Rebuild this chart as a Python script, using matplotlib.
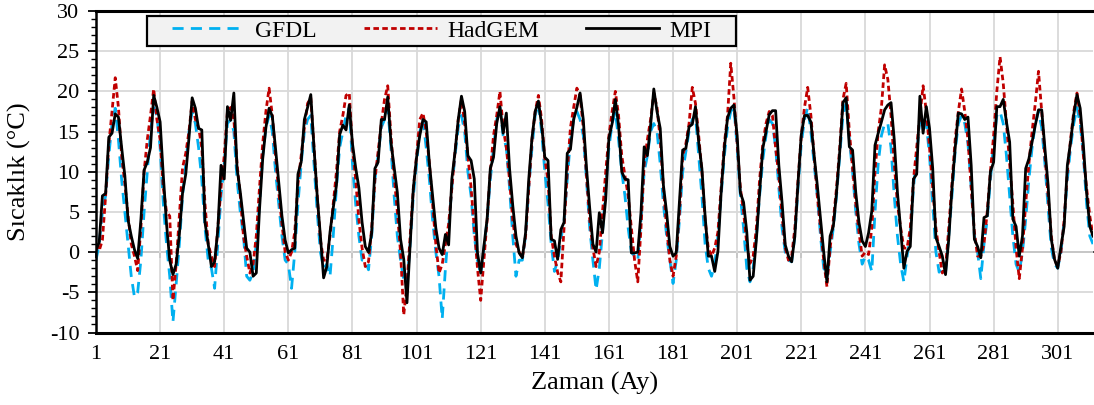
import numpy as np
import matplotlib.pyplot as plt
from matplotlib.patches import Rectangle
from matplotlib.ticker import MultipleLocator

plt.rcParams['font.family'] = 'serif'
plt.rcParams['font.serif'] = ['Liberation Serif', 'Times New Roman', 'DejaVu Serif']
plt.rcParams['axes.unicode_minus'] = False

# aylik sicaklik serileri (1..312. ay)
months = np.arange(1, 313)

gfdl = [
    -1.0, 1.0, 5.0, 7.0, 12.0, 16.0, 17.9, 14.0, 9.0, 5.0, 1.0, -3.0,
    -5.6, -5.0, -1.0, 5.0, 10.0, 15.0, 18.0, 17.0, 13.0, 6.0, 1.0, -3.0,
    -8.7, -4.0, 1.0, 7.0, 11.0, 15.0, 17.5, 16.0, 13.0, 9.0, 3.0, -1.0,
    -2.0, -4.5, 1.0, 7.0, 11.0, 16.0, 16.5, 15.0, 9.0, 5.0, 2.0, -3.0,
    -3.5, -2.5, 1.0, 6.0, 12.0, 15.5, 17.0, 15.0, 10.0, 6.0, 2.0, -1.0,
    -1.5, -4.5, 0.0, 6.0, 11.0, 15.0, 16.5, 17.0, 11.0, 5.0, 0.0, -2.0,
    -1.5, -3.0, 2.0, 8.0, 13.0, 15.0, 17.0, 18.0, 11.0, 6.0, 2.0, -1.0,
    -1.0, -2.2, 2.0, 9.0, 12.0, 15.5, 16.5, 18.0, 13.0, 7.0, 2.0, -1.0,
    -3.5, -4.0, 1.0, 7.0, 11.0, 15.0, 16.5, 13.0, 9.0, 4.0, 0.0, -3.0,
    -8.3, -2.0, 3.0, 8.0, 12.0, 15.5, 17.0, 15.0, 10.0, 7.0, 2.0, -1.0,
    -2.8, 0.5, 4.0, 9.0, 13.0, 16.5, 18.0, 14.5, 13.0, 8.0, 2.0, -3.0,
    -1.0, -1.0, 2.0, 8.0, 13.0, 17.0, 18.5, 15.0, 10.0, 6.0, 1.0, -2.4,
    -1.0, 1.5, 4.0, 9.0, 14.0, 16.5, 17.5, 16.5, 14.5, 9.0, 3.0, -1.0,
    -4.7, -2.0, 2.5, 8.0, 13.0, 16.0, 17.5, 14.0, 10.0, 7.0, 3.0, 0.0,
    -0.5, -1.0, 4.0, 10.0, 12.0, 15.0, 16.0, 15.0, 11.0, 6.0, 2.0, -1.0,
    -3.9, -1.0, 4.0, 10.0, 12.5, 15.0, 16.5, 17.0, 12.0, 7.0, 1.0, -2.0,
    -3.0, -1.5, 2.0, 7.0, 12.0, 15.5, 17.5, 18.0, 13.0, 7.0, 3.0, -2.0,
    -3.7, -2.0, 2.0, 7.0, 11.5, 14.5, 16.5, 16.0, 13.0, 8.0, 3.0, 0.0,
    -1.0, -1.2, 2.0, 8.0, 13.5, 16.5, 18.0, 15.0, 11.0, 7.0, 2.0, -2.0,
    -3.0, 0.0, 3.0, 7.0, 12.0, 17.0, 18.5, 14.0, 10.0, 5.0, 1.0, -1.5,
    -0.5, -1.0, -2.4, 5.0, 11.0, 14.5, 16.0, 16.0, 13.0, 7.0, 2.0, -1.5,
    -3.7, -0.5, 2.0, 8.0, 12.0, 16.5, 17.0, 16.0, 12.0, 6.0, 0.0, -2.5,
    -2.0, -2.5, 2.0, 7.0, 12.5, 16.0, 17.0, 16.0, 13.5, 8.0, 2.0, 0.0,
    -3.3, 1.0, 4.0, 9.0, 13.5, 17.0, 17.5, 16.0, 12.0, 7.0, 2.0, -1.5,
    -2.5, 0.0, 4.0, 9.0, 13.0, 16.0, 17.5, 15.5, 11.0, 5.5, 0.5, -1.5,
    -2.0, 0.0, 4.0, 9.0, 13.0, 16.0, 18.0, 16.0, 12.0, 6.0, 2.0, 1.0,
]

hadgem = [
    1.0, 0.2, 1.5, 7.0, 13.5, 17.5, 21.7, 18.0, 12.0, 8.5, 4.5, 1.0,
    -0.5, -2.3, 3.0, 10.0, 14.0, 17.0, 20.3, 16.5, 14.0, 8.0, 5.0, 4.5,
    -6.0, -1.5, 4.5, 10.5, 12.3, 15.0, 18.8, 16.5, 15.5, 13.0, 6.0, 1.0,
    -0.5, -1.8, 3.0, 8.0, 12.0, 17.5, 18.0, 16.5, 11.0, 7.0, 2.0, -0.5,
    -2.6, -1.5, 2.0, 8.0, 13.5, 17.5, 20.4, 17.0, 12.0, 7.5, 3.5, 0.0,
    -1.0, 0.0, 2.5, 8.5, 12.0, 15.5, 18.5, 19.2, 13.0, 7.0, 1.5, -1.0,
    -1.0, 2.0, 6.0, 10.0, 15.0, 17.0, 19.5, 19.8, 13.0, 9.0, 4.0, 0.5,
    -1.8, -1.2, 3.0, 9.0, 12.5, 16.0, 19.0, 20.7, 14.5, 9.5, 5.0, 0.0,
    -7.8, -4.0, 2.0, 8.0, 12.0, 16.5, 17.3, 15.0, 11.0, 6.0, 1.0, -2.6,
    -1.5, 1.0, 3.5, 8.0, 12.5, 16.5, 19.0, 16.0, 12.0, 8.0, 3.0, -2.0,
    -6.0, -1.0, 4.0, 10.0, 14.5, 17.0, 20.0, 15.5, 13.0, 9.0, 4.0, 1.0,
    0.0, -0.7, 2.0, 8.0, 14.0, 17.5, 19.5, 16.5, 11.6, 9.0, 2.0, -0.5,
    -2.5, -3.7, 3.0, 10.0, 15.5, 18.0, 20.4, 19.5, 15.5, 9.5, 4.0, 0.5,
    -1.8, 0.0, 5.0, 10.0, 14.5, 17.5, 20.0, 17.0, 12.0, 9.5, 7.0, 3.0,
    -1.0, -3.7, 3.0, 11.0, 14.0, 16.5, 19.8, 18.0, 14.0, 8.0, 3.0, -1.0,
    -3.0, -0.5, 5.0, 12.0, 13.5, 16.0, 20.5, 18.5, 14.5, 10.0, 4.0, 0.5,
    -0.5, 0.5, 2.5, 8.0, 13.5, 17.0, 23.5, 19.2, 13.5, 8.0, 5.0, 1.0,
    -1.4, -0.5, 3.0, 9.0, 13.5, 16.0, 17.5, 17.0, 13.0, 9.5, 4.5, 0.5,
    -1.0, -0.5, 3.0, 9.0, 14.5, 18.0, 20.5, 17.0, 12.0, 7.0, 3.0, -1.0,
    -4.3, 0.5, 4.0, 8.0, 13.0, 19.0, 21.0, 15.0, 10.5, 6.0, 2.5, -0.5,
    0.0, -0.3, 3.0, 10.0, 15.0, 18.0, 23.3, 21.5, 17.0, 11.0, 6.0, 3.0,
    0.5, 0.5, 3.0, 9.0, 13.0, 17.0, 20.7, 17.5, 13.0, 8.0, 3.0, 0.0,
    -2.6, -2.0, 3.0, 8.5, 14.0, 17.5, 20.3, 17.5, 14.0, 8.0, 2.5, -0.5,
    -0.5, 1.0, 5.0, 10.0, 14.5, 20.0, 24.3, 21.0, 16.0, 11.0, 6.0, 0.5,
    -3.3, 0.5, 6.0, 11.0, 15.0, 18.5, 22.5, 17.5, 12.0, 7.0, 2.0, -1.0,
    -1.7, 0.0, 4.0, 10.0, 14.0, 17.5, 19.8, 17.0, 12.0, 8.0, 4.5, 2.0,
]

mpi = [
    0.3, 1.2, 7.0, 7.3, 14.3, 14.8, 17.2, 16.8, 13.0, 9.5, 4.0, 2.0,
    0.3, -0.8, 4.0, 10.2, 11.2, 13.0, 19.5, 18.0, 16.2, 9.5, 3.5, -1.0,
    -2.8, -1.5, 2.2, 7.4, 9.7, 14.2, 19.2, 17.9, 15.4, 15.2, 3.7, 1.0,
    -1.8, -1.2, 2.8, 10.8, 9.1, 18.1, 16.4, 19.8, 10.4, 7.5, 4.0, 0.5,
    0.0, -3.0, -2.6, 5.3, 11.6, 15.5, 17.9, 16.9, 12.9, 8.7, 4.5, 1.5,
    -0.1, 0.3, 0.5, 9.7, 11.2, 16.5, 18.0, 19.6, 13.0, 7.0, 2.0, -3.2,
    -1.8, 2.5, 5.5, 8.3, 14.6, 15.8, 15.2, 18.3, 13.5, 10.5, 8.0, 3.7,
    0.7, 0.0, 2.4, 10.4, 11.2, 16.5, 16.5, 19.3, 13.7, 10.5, 7.4, 1.6,
    -0.9, -6.3, 1.0, 8.0, 11.8, 14.5, 16.5, 16.2, 11.0, 7.0, 3.0, 0.5,
    -0.3, 2.2, 0.9, 9.1, 12.5, 16.5, 19.4, 17.5, 12.0, 11.4, 9.1, -0.1,
    -2.6, 0.7, 4.1, 10.4, 11.8, 16.0, 18.1, 14.8, 17.3, 10.4, 5.8, 2.0,
    -0.1, -0.7, 2.4, 9.1, 14.2, 17.5, 18.8, 15.8, 11.8, 11.4, 1.6, 1.4,
    -0.9, 2.8, 3.7, 12.3, 12.8, 16.5, 18.0, 19.8, 16.5, 10.5, 5.5, 1.0,
    0.0, 4.9, 2.4, 6.6, 14.2, 16.0, 19.0, 15.8, 10.0, 9.1, 9.0, -0.1,
    -0.1, 0.0, 4.9, 13.1, 12.0, 15.8, 20.3, 17.5, 15.4, 8.3, 4.9, 0.7,
    -0.5, -0.1, 6.2, 12.7, 12.9, 15.6, 15.9, 18.1, 13.7, 10.4, 4.5, -0.5,
    -0.5, -2.4, 0.1, 7.4, 12.9, 16.7, 17.9, 18.3, 14.5, 7.4, 6.2, 2.5,
    -3.5, -3.0, 1.6, 7.4, 12.9, 15.0, 17.1, 17.6, 17.6, 10.8, 6.2, 0.9,
    -0.5, -1.2, 2.0, 8.7, 14.6, 17.0, 17.0, 16.2, 12.1, 8.3, 4.1, 0.0,
    -3.7, 2.0, 3.2, 7.4, 12.5, 18.6, 19.2, 13.1, 12.7, 7.4, 3.7, 1.4,
    0.7, 2.4, 5.1, 13.3, 14.8, 16.2, 17.7, 18.3, 18.6, 14.0, 7.4, 2.8,
    -2.0, 0.1, 0.7, 9.1, 9.7, 19.4, 14.8, 18.1, 15.4, 10.4, 1.8, 0.7,
    -0.5, -2.8, 1.6, 7.9, 12.9, 17.3, 17.2, 16.5, 16.8, 10.8, 1.6, 0.7,
    -0.7, 4.3, 4.5, 10.0, 11.2, 18.1, 18.1, 19.0, 16.2, 13.7, 4.1, 3.2,
    -0.5, 2.0, 10.4, 11.6, 13.7, 15.8, 17.7, 17.7, 12.9, 8.3, 1.6, -0.9,
    -2.0, 0.7, 3.2, 10.8, 13.7, 17.1, 19.6, 17.9, 13.3, 7.4, 3.2, 2.0,
]

x_ticks = list(range(1, 302, 20))
series_names = ['GFDL', 'HadGEM', 'MPI']

fig = plt.figure(figsize=(10.94, 4.05), dpi=100)
ax = fig.add_axes([96/1094, 1 - 332.5/405, 997/1094, 321.5/405])

ax.plot(months, gfdl, color='#00b0f0', lw=2.0, linestyle=(0, (4, 2.6)), label=series_names[0])
ax.plot(months, hadgem, color='#c00000', lw=2.0, linestyle=(0, (2, 1.2)), label=series_names[1])
ax.plot(months, mpi, color='black', lw=2.0, solid_joinstyle='round', label=series_names[2])

ax.set_xlim(1, 312)
ax.set_ylim(-10, 30)
ax.set_yticks(range(-10, 31, 5))
ax.yaxis.set_minor_locator(MultipleLocator(1))
ax.set_xticks(x_ticks)
ax.set_xticklabels([str(t) for t in x_ticks])
ax.grid(True, color='#d9d9d9', lw=1.3, zorder=0)
ax.set_axisbelow(True)

ax.tick_params(axis='x', length=0, pad=9, labelsize=16)
ax.tick_params(axis='y', which='major', length=6, width=1.3, pad=6, labelsize=16)
ax.tick_params(axis='y', which='minor', length=3.5, width=1.0)

for s in ['top', 'bottom']:
    ax.spines[s].set_linewidth(2.2)
ax.spines['left'].set_linewidth(1.8)
ax.spines['right'].set_visible(False)

# yatay eksen 0 cizgisi uzerinde
sec = ax.secondary_xaxis(0.25)
sec.set_xticks(x_ticks)
sec.set_xticklabels([])
sec.tick_params(axis='x', length=4, width=1.2, direction='out')
sec.spines['bottom'].set_linewidth(1.2)

ax.set_xlabel('Zaman (Ay)', fontsize=19)
ax.xaxis.set_label_coords(0.5, -0.123)
ax.set_ylabel('Sıcaklık (°C)', fontsize=19)
ax.yaxis.set_label_coords(-0.065, 0.5)

# lejant kutusu
box = Rectangle((51/997, 0.891), 589/997, 0.093, transform=ax.transAxes,
                facecolor='#f2f2f2', edgecolor='black', lw=1.6, zorder=4)
ax.add_patch(box)
leg = ax.legend(loc='center', bbox_to_anchor=(0.3465, 0.938), ncol=3, frameon=False,
                fontsize=17, handlelength=3.1, handletextpad=0.42, columnspacing=2.0)
leg.set_zorder(5)

fig.savefig('out.png', dpi=100)
